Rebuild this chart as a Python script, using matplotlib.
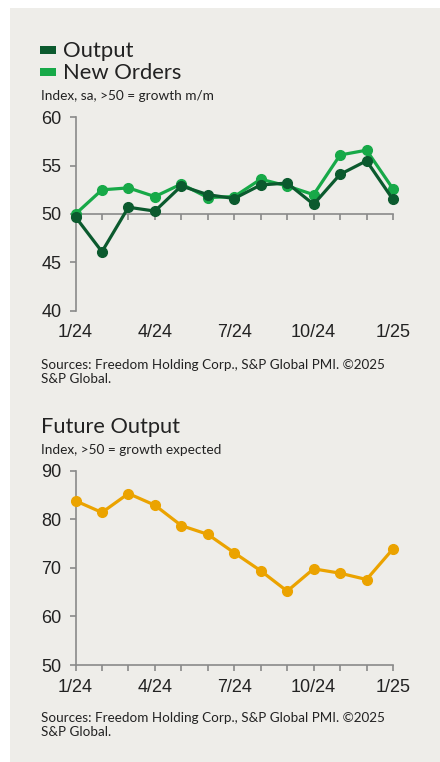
import matplotlib.pyplot as plt
from matplotlib.patches import Rectangle

# Monthly PMI readings, Jan 2024 - Jan 2025
months = list(range(13))
tick_pos = [0, 3, 6, 9, 12]
tick_labels = ["1/24", "4/24", "7/24", "10/24", "1/25"]

output = [49.7, 46.1, 50.7, 50.3, 52.9, 52.0, 51.6, 53.0, 53.2, 51.0, 54.1, 55.5, 51.5]
new_orders = [50.0, 52.5, 52.7, 51.8, 53.1, 51.7, 51.8, 53.6, 52.9, 52.0, 56.1, 56.6, 52.6]
future_output = [83.8, 81.4, 85.3, 82.9, 78.7, 76.9, 73.1, 69.4, 65.2, 69.8, 68.9, 67.6, 73.9]

DARK = "#0b5a2e"
LIGHT = "#17a948"
ORANGE = "#eba300"
BG = "#eeede9"
TXT = "#222222"
AXC = "#8a8a8a"

W, H = 440, 762
fig = plt.figure(figsize=(W / 100, H / 100), dpi=100)
fig.patch.set_facecolor("white")
fig.patches.append(Rectangle((10 / W, 0), 1, 1 - 8 / H, transform=fig.transFigure,
                             facecolor=BG, edgecolor="none", zorder=-5))

tick_font = ["Liberation Sans Narrow", "Liberation Sans", "DejaVu Sans"]
text_font = ["Lato", "DejaVu Sans"]


def px_axes(x0, x1, ytop, ybot):
    return fig.add_axes([x0 / W, 1 - ybot / H, (x1 - x0) / W, (ybot - ytop) / H])


def style(ax, ymin, ymax, ystep, xaxis_at):
    ax.set_facecolor("none")
    ax.set_xlim(0, 12)
    ax.set_ylim(ymin, ymax)
    ax.set_yticks(range(ymin, ymax + 1, ystep))
    ax.set_xticks(months)
    for s in ["top", "right"]:
        ax.spines[s].set_visible(False)
    ax.spines["left"].set_color(AXC)
    ax.spines["bottom"].set_color(AXC)
    ax.spines["left"].set_linewidth(1.2)
    ax.spines["bottom"].set_linewidth(1.2)
    ax.spines["bottom"].set_position(("data", xaxis_at))
    ax.tick_params(axis="both", color=AXC, length=4, width=1.2, direction="out")
    ax.tick_params(axis="y", labelsize=13, labelcolor=TXT, pad=6)
    ax.tick_params(axis="x", labelbottom=False)
    for lab in ax.get_yticklabels():
        lab.set_family(tick_font)
    # month labels sit under the plot area, not under the 50 line
    for p, t in zip(tick_pos, tick_labels):
        ax.annotate(t, (p, 0), xycoords=("data", "axes fraction"), xytext=(0, -16),
                    textcoords="offset points", ha="center", va="center",
                    fontsize=13, color=TXT, family=tick_font)


# Top chart: Output / New Orders
ax1 = px_axes(75.5, 393, 117.3, 310.7)
style(ax1, 40, 60, 5, 50)
ax1.plot(months, new_orders, color=LIGHT, lw=2.3, marker="o", ms=7, clip_on=False, zorder=3)
ax1.plot(months, output, color=DARK, lw=2.3, marker="o", ms=7, clip_on=False, zorder=4)

fig.patches.append(Rectangle((40 / W, 1 - 54 / H), 16 / W, 8 / H, transform=fig.transFigure,
                             facecolor=DARK, edgecolor="none"))
fig.patches.append(Rectangle((40 / W, 1 - 76 / H), 16 / W, 8 / H, transform=fig.transFigure,
                             facecolor=LIGHT, edgecolor="none"))
fig.text(63 / W, 1 - 51 / H, "Output", fontsize=15.8, color=TXT, family=text_font, va="center")
fig.text(63 / W, 1 - 73 / H, "New Orders", fontsize=15.8, color=TXT, family=text_font, va="center")
fig.text(41 / W, 1 - 96 / H, "Index, sa, >50 = growth m/m", fontsize=9.8, color=TXT,
         family=text_font, va="center")
fig.text(41 / W, 1 - 372 / H, "Sources: Freedom Holding Corp., S&P Global PMI. \u00a92025\nS&P Global.",
         fontsize=9.7, color=TXT, family=text_font, va="center", linespacing=1.15)

# Bottom chart: Future Output
ax2 = px_axes(75.5, 393, 470.7, 665)
style(ax2, 50, 90, 10, 50)
ax2.plot(months, future_output, color=ORANGE, lw=2.3, marker="o", ms=7, clip_on=False, zorder=3)

fig.text(41 / W, 1 - 427 / H, "Future Output", fontsize=15.7, color=TXT, family=text_font, va="center")
fig.text(41 / W, 1 - 450 / H, "Index, >50 = growth expected", fontsize=9.8, color=TXT,
         family=text_font, va="center")
fig.text(41 / W, 1 - 725 / H, "Sources: Freedom Holding Corp., S&P Global PMI. \u00a92025\nS&P Global.",
         fontsize=9.7, color=TXT, family=text_font, va="center", linespacing=1.15)

fig.savefig("out.png", dpi=100, facecolor=fig.get_facecolor())
